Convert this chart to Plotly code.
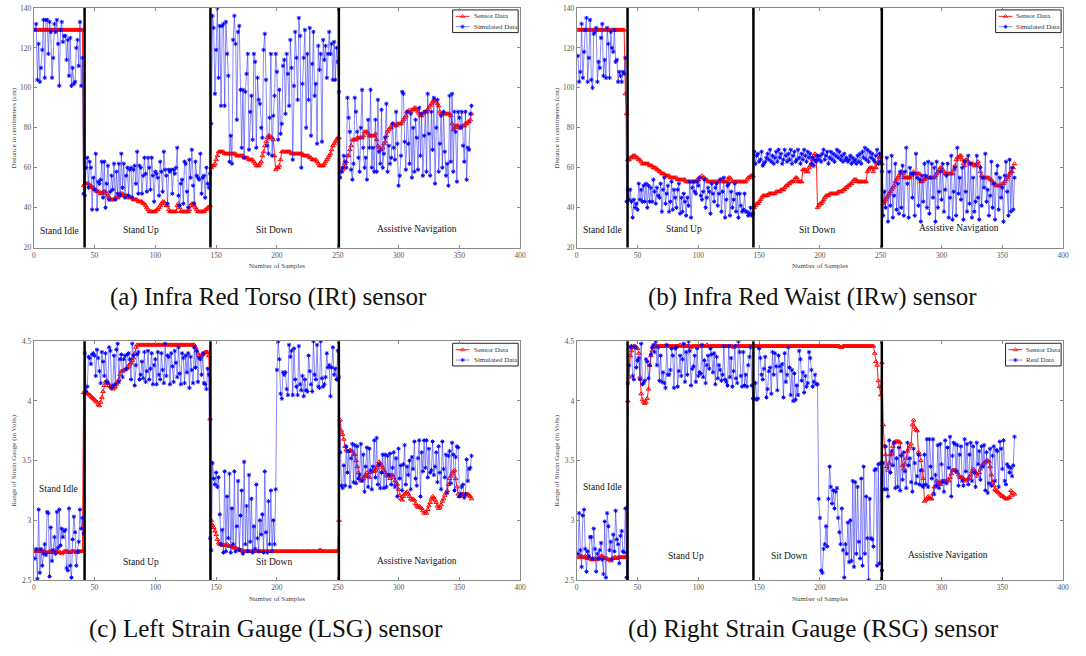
import plotly.graph_objects as go

# ---------------- Infra Red Torso (IRt) ----------------
IRT_SENSOR = [
    129, 129, 129, 129, 129, 129, 129, 129, 129, 129,
    129, 129, 129, 129, 129, 129, 129, 129, 129, 129,
    129, 129, 129, 129, 129, 129, 129, 129, 129, 129,
    129, 129, 129, 129, 129, 129, 129, 129, 129, 129,
    51, 52, 52, 52, 52, 51, 51, 50, 50, 49,
    49, 48, 48, 48, 47, 47, 48, 48, 48, 47,
    46, 45, 44, 44, 44, 44, 45, 45, 45, 46,
    47, 47, 47, 46, 46, 46, 46, 45, 45, 45,
    45, 44, 44, 44, 44, 43, 43, 43, 43, 42,
    42, 41, 40, 39, 38, 38, 38, 38, 38, 38,
    39, 39, 40, 41, 42, 43, 43, 42, 41, 41,
    39, 38, 38, 38, 38, 38, 38, 41, 42, 40,
    38, 38, 38, 38, 38, 38, 38, 39, 41, 42,
    42, 41, 40, 39, 38, 38, 38, 38, 38, 38,
    39, 39, 40, 40, 41, 60, 61, 61, 62, 64,
    66, 68, 68, 68, 68, 68, 67, 67, 67, 67,
    67, 67, 67, 67, 67, 67, 66, 66, 66, 66,
    66, 66, 65, 65, 65, 65, 64, 64, 64, 64,
    63, 62, 61, 61, 61, 62, 63, 66, 68, 71,
    73, 75, 76, 76, 75, 75, 74, 66, 59, 60,
    60, 61, 64, 68, 68, 68, 68, 68, 68, 68,
    68, 67, 67, 67, 67, 67, 67, 67, 67, 67,
    67, 66, 66, 66, 66, 66, 65, 65, 64, 64,
    64, 64, 63, 62, 61, 61, 61, 61, 62, 63,
    64, 65, 66, 67, 69, 71, 72, 73, 74, 75,
    75, 58, 58, 59, 60, 62, 63, 66, 66, 69,
    71, 74, 74, 74, 74, 75, 75, 75, 75, 75,
    76, 78, 78, 78, 77, 76, 76, 76, 76, 76,
    77, 74, 71, 70, 69, 69, 70, 72, 73, 76,
    78, 79, 80, 80, 82, 82, 81, 81, 82, 82,
    82, 82, 83, 84, 85, 86, 88, 88, 89, 88,
    89, 89, 90, 90, 89, 88, 87, 86, 86, 87,
    88, 88, 88, 89, 90, 91, 92, 93, 94, 94,
    93, 92, 91, 88, 87, 87, 87, 87, 87, 87,
    87, 87, 86, 82, 79, 80, 81, 81, 81, 80,
    80, 81, 81, 81, 82, 82, 83, 83, 84, 87,
]
IRT_SIM = [
    129, 132, 104, 122, 103, 110, 119, 134, 105, 134,
    134, 117, 133, 128, 105, 115, 132, 128, 134, 122,
    101, 129, 133, 123, 126, 126, 114, 124, 106, 125,
    101, 110, 102, 103, 120, 124, 111, 133, 101, 115,
    47, 46, 60, 65, 50, 63, 60, 39, 55, 49,
    67, 39, 53, 52, 54, 63, 45, 63, 40, 52,
    61, 44, 48, 56, 49, 62, 44, 58, 47, 62,
    46, 67, 50, 62, 45, 56, 60, 46, 59, 60,
    45, 59, 61, 52, 68, 47, 61, 60, 47, 56,
    65, 57, 48, 65, 60, 49, 65, 56, 43, 58,
    57, 55, 46, 63, 58, 48, 68, 59, 56, 42,
    59, 58, 59, 47, 59, 57, 60, 70, 46, 41,
    52, 54, 42, 63, 62, 48, 40, 64, 55, 69,
    51, 42, 63, 56, 55, 54, 67, 47, 55, 56,
    45, 60, 52, 50, 57, 82, 136, 130, 97, 119,
    140, 105, 131, 91, 131, 132, 91, 133, 117, 106,
    63, 76, 62, 124, 136, 122, 84, 128, 131, 99,
    70, 99, 65, 98, 107, 117, 69, 88, 96, 74,
    117, 113, 70, 105, 94, 92, 80, 75, 119, 127,
    104, 71, 67, 85, 117, 66, 86, 96, 117, 108,
    74, 99, 77, 82, 111, 114, 87, 117, 107, 91,
    124, 110, 64, 101, 128, 115, 94, 135, 126, 60,
    102, 115, 129, 80, 117, 94, 130, 76, 112, 128,
    96, 102, 72, 121, 109, 117, 73, 124, 114, 121,
    105, 117, 128, 117, 122, 104, 123, 104, 120, 113,
    98, 55, 58, 60, 66, 63, 60, 95, 85, 78,
    59, 54, 62, 95, 88, 78, 65, 58, 80, 99,
    70, 60, 65, 54, 84, 70, 99, 60, 70, 58,
    84, 58, 94, 68, 62, 89, 60, 67, 75, 92,
    58, 71, 62, 65, 82, 70, 64, 88, 72, 51,
    56, 66, 98, 97, 73, 59, 88, 72, 62, 87,
    55, 80, 58, 84, 75, 59, 90, 66, 87, 56,
    76, 88, 58, 97, 77, 56, 88, 69, 95, 52,
    80, 94, 58, 72, 86, 60, 88, 68, 56, 62,
    51, 96, 63, 97, 58, 88, 78, 53, 88, 85,
    80, 88, 71, 63, 88, 54, 70, 69, 87, 91,
]

# ---------------- Infra Red Waist (IRw) ----------------
IRW_SENSOR = [
    129, 129, 129, 129, 129, 129, 129, 129, 129, 129,
    129, 129, 129, 129, 129, 129, 129, 129, 129, 129,
    129, 129, 129, 129, 129, 129, 129, 129, 129, 129,
    129, 129, 129, 129, 129, 129, 129, 129, 129, 97,
    87, 64, 64, 65, 65, 66, 66, 66, 65, 65,
    64, 64, 63, 62, 62, 62, 62, 62, 62, 61,
    61, 61, 60, 60, 60, 59, 59, 58, 58, 57,
    57, 57, 56, 56, 56, 56, 55, 55, 55, 55,
    55, 55, 54, 54, 54, 54, 54, 54, 54, 53,
    53, 53, 53, 53, 53, 53, 53, 53, 54, 54,
    55, 55, 56, 55, 55, 54, 54, 53, 53, 53,
    53, 53, 53, 53, 53, 53, 53, 54, 54, 53,
    53, 53, 53, 53, 55, 55, 54, 53, 53, 53,
    53, 53, 53, 53, 53, 53, 53, 53, 53, 54,
    55, 55, 56, 56, 56, 40, 41, 42, 42, 43,
    44, 45, 46, 46, 46, 46, 46, 47, 47, 47,
    47, 47, 47, 48, 48, 48, 48, 49, 49, 49,
    50, 51, 51, 52, 52, 53, 53, 53, 54, 55,
    55, 53, 53, 53, 53, 59, 59, 59, 58, 58,
    60, 61, 62, 64, 66, 67, 66, 40, 41, 42,
    42, 43, 44, 45, 46, 46, 46, 47, 47, 47,
    47, 47, 47, 47, 48, 48, 48, 48, 49, 49,
    50, 50, 51, 51, 52, 52, 53, 54, 54, 54,
    53, 53, 53, 53, 53, 53, 53, 53, 58, 59,
    60, 60, 60, 58, 60, 60, 62, 63, 65, 66,
    62, 42, 43, 44, 45, 46, 47, 48, 49, 50,
    51, 53, 54, 55, 56, 57, 58, 57, 55, 55,
    55, 55, 55, 55, 56, 57, 58, 57, 57, 57,
    57, 57, 53, 53, 54, 54, 55, 55, 55, 55,
    55, 55, 55, 55, 56, 57, 58, 59, 60, 60,
    59, 58, 57, 57, 57, 57, 57, 57, 57, 59,
    61, 64, 65, 65, 66, 66, 64, 62, 61, 64,
    64, 63, 62, 62, 62, 62, 61, 61, 62, 63,
    61, 58, 56, 55, 55, 55, 55, 55, 55, 54,
    54, 53, 52, 52, 51, 51, 51, 51, 51, 52,
    52, 53, 54, 55, 56, 57, 58, 58, 60, 62,
]
IRW_SIM = [
    116, 103, 108, 132, 105, 118, 129, 135, 103, 115,
    134, 104, 100, 127, 128, 130, 103, 113, 110, 125,
    132, 106, 114, 105, 130, 122, 105, 128, 120, 118,
    129, 113, 114, 103, 108, 106, 103, 108, 107, 115,
    43, 49, 44, 49, 43, 35, 44, 40, 42, 39,
    52, 44, 49, 43, 51, 43, 52, 40, 51, 43,
    50, 43, 54, 48, 42, 50, 46, 45, 52, 38,
    49, 55, 42, 47, 51, 38, 43, 53, 39, 49,
    45, 40, 49, 52, 37, 45, 38, 47, 43, 36,
    45, 41, 53, 35, 50, 53, 48, 47, 53, 51,
    55, 46, 44, 48, 54, 40, 45, 50, 48, 37,
    52, 47, 43, 50, 52, 41, 47, 54, 38, 48,
    55, 35, 44, 51, 52, 36, 48, 40, 44, 52,
    38, 47, 35, 47, 41, 38, 39, 47, 38, 38,
    36, 37, 40, 36, 37, 68, 62, 66, 67, 63,
    64, 68, 61, 62, 63, 65, 67, 64, 69, 63,
    66, 62, 65, 68, 63, 69, 65, 67, 62, 64,
    69, 66, 63, 67, 64, 69, 62, 66, 68, 63,
    64, 69, 65, 62, 67, 64, 69, 66, 63, 68,
    65, 67, 62, 65, 61, 64, 63, 66, 64, 66,
    63, 67, 69, 64, 66, 68, 62, 65, 68, 64,
    67, 63, 66, 69, 65, 68, 64, 66, 63, 67,
    64, 65, 63, 64, 66, 62, 65, 63, 64, 62,
    66, 63, 67, 62, 68, 65, 70, 64, 69, 63,
    68, 65, 67, 64, 63, 66, 69, 62, 67, 63,
    58, 36, 48, 40, 65, 33, 58, 41, 66, 35,
    46, 62, 39, 52, 37, 58, 40, 61, 36, 58,
    70, 52, 35, 60, 57, 45, 57, 36, 67, 55,
    41, 54, 33, 56, 43, 62, 56, 40, 63, 37,
    55, 62, 45, 60, 33, 63, 40, 48, 58, 44,
    62, 38, 49, 56, 62, 35, 45, 66, 34, 48,
    60, 36, 70, 47, 55, 44, 60, 34, 63, 48,
    38, 66, 42, 62, 35, 55, 38, 43, 66, 45,
    34, 60, 41, 55, 50, 67, 43, 49, 36, 46,
    63, 40, 52, 34, 57, 61, 39, 55, 45, 50,
    33, 56, 63, 48, 36, 64, 38, 60, 39, 55,
]

# ---------------- Left Strain Gauge (LSG) ----------------
LSG_SENSOR = [
    2.74, 2.74, 2.74, 2.75, 2.75, 2.74, 2.74, 2.74, 2.74, 2.73,
    2.73, 2.73, 2.74, 2.74, 2.73, 2.73, 2.73, 2.74, 2.74, 2.74,
    2.73, 2.73, 2.72, 2.73, 2.74, 2.74, 2.74, 2.74, 2.73, 2.73,
    2.74, 2.74, 2.74, 2.74, 2.73, 2.73, 2.74, 2.74, 2.74, 2.74,
    4.07, 4.07, 4.07, 4.06, 4.06, 4.05, 4.04, 4.03, 4.02, 4.01,
    4.00, 3.99, 3.97, 3.96, 3.99, 4.03, 4.08, 4.13, 4.16, 4.17,
    4.15, 4.13, 4.12, 4.11, 4.10, 4.11, 4.12, 4.14, 4.16, 4.18,
    4.22, 4.25, 4.25, 4.26, 4.26, 4.27, 4.28, 4.29, 4.31, 4.32,
    4.34, 4.36, 4.40, 4.45, 4.47, 4.47, 4.47, 4.47, 4.47, 4.47,
    4.47, 4.47, 4.47, 4.47, 4.47, 4.47, 4.47, 4.47, 4.47, 4.47,
    4.47, 4.47, 4.47, 4.47, 4.47, 4.47, 4.47, 4.47, 4.47, 4.47,
    4.47, 4.47, 4.47, 4.47, 4.47, 4.47, 4.47, 4.47, 4.47, 4.47,
    4.47, 4.47, 4.47, 4.47, 4.47, 4.47, 4.47, 4.47, 4.47, 4.47,
    4.47, 4.47, 4.45, 4.42, 4.40, 4.38, 4.37, 4.38, 4.39, 4.40,
    4.41, 4.41, 4.41, 4.38, 3.85, 3.00, 2.96, 2.94, 2.91, 2.88,
    2.84, 2.81, 2.80, 2.80, 2.79, 2.79, 2.79, 2.79, 2.80, 2.79,
    2.78, 2.78, 2.78, 2.77, 2.77, 2.77, 2.76, 2.76, 2.76, 2.75,
    2.75, 2.74, 2.74, 2.74, 2.74, 2.74, 2.74, 2.74, 2.74, 2.74,
    2.74, 2.74, 2.74, 2.74, 2.74, 2.74, 2.74, 2.74, 2.74, 2.74,
    2.74, 2.74, 2.74, 2.74, 2.74, 2.74, 2.74, 2.74, 2.74, 2.74,
    2.74, 2.74, 2.74, 2.74, 2.74, 2.74, 2.74, 2.74, 2.74, 2.74,
    2.74, 2.74, 2.74, 2.74, 2.74, 2.74, 2.74, 2.74, 2.74, 2.74,
    2.74, 2.74, 2.74, 2.74, 2.74, 2.74, 2.74, 2.74, 2.74, 2.74,
    2.74, 2.74, 2.74, 2.74, 2.75, 2.75, 2.74, 2.74, 2.74, 2.74,
    2.74, 2.74, 2.74, 2.74, 2.74, 2.74, 2.74, 2.74, 2.74, 2.74,
    3.00, 3.84, 3.75, 3.72, 3.68, 3.62, 3.59, 3.58, 3.58, 3.59,
    3.58, 3.58, 3.55, 3.55, 3.50, 3.45, 3.40, 3.35, 3.33, 3.34,
    3.35, 3.37, 3.37, 3.40, 3.37, 3.36, 3.40, 3.41, 3.42, 3.41,
    3.42, 3.44, 3.46, 3.49, 3.48, 3.46, 3.44, 3.42, 3.40, 3.38,
    3.37, 3.38, 3.35, 3.38, 3.38, 3.36, 3.33, 3.31, 3.30, 3.26,
    3.21, 3.18, 3.17, 3.20, 3.22, 3.23, 3.24, 3.22, 3.20, 3.18,
    3.17, 3.18, 3.17, 3.14, 3.12, 3.11, 3.12, 3.11, 3.10, 3.08,
    3.06, 3.07, 3.06, 3.09, 3.12, 3.15, 3.18, 3.20, 3.19, 3.17,
    3.15, 3.12, 3.10, 3.11, 3.13, 3.16, 3.18, 3.21, 3.23, 3.25,
    3.30, 3.35, 3.37, 3.39, 3.41, 3.42, 3.35, 3.28, 3.22, 3.20,
    3.21, 3.22, 3.22, 3.21, 3.22, 3.22, 3.22, 3.21, 3.20, 3.18,
]
LSG_SIM = [
    2.68, 2.76, 2.51, 3.09, 2.56, 2.76, 2.62, 2.72, 2.80, 2.71,
    3.07, 3.06, 2.53, 2.94, 2.66, 2.75, 2.86, 2.72, 3.07, 2.77,
    3.09, 2.79, 2.93, 2.86, 2.91, 2.92, 2.60, 2.58, 3.10, 2.62,
    2.52, 2.84, 3.03, 2.90, 2.62, 2.74, 2.82, 3.09, 2.93, 3.02,
    2.89, 4.40, 4.08, 4.12, 4.37, 4.36, 4.31, 4.39, 4.40, 4.38,
    4.21, 4.43, 4.36, 4.25, 4.15, 4.41, 4.33, 4.21, 4.40, 4.16,
    4.15, 4.45, 4.42, 4.11, 4.13, 4.38, 4.14, 4.43, 4.48, 4.16,
    4.35, 4.39, 4.20, 4.35, 4.38, 4.27, 4.39, 4.40, 4.35, 4.18,
    4.48, 4.38, 4.13, 4.30, 4.39, 4.41, 4.18, 4.22, 4.33, 4.19,
    4.41, 4.16, 4.25, 4.42, 4.18, 4.27, 4.40, 4.14, 4.30, 4.35,
    4.14, 4.41, 4.22, 4.18, 4.40, 4.26, 4.15, 4.48, 4.21, 4.38,
    4.37, 4.14, 4.40, 4.29, 4.16, 4.42, 4.32, 4.20, 4.45, 4.23,
    4.14, 4.40, 4.36, 4.15, 4.38, 4.24, 4.40, 4.11, 4.37, 4.26,
    4.15, 4.45, 4.28, 4.42, 4.16, 4.36, 4.35, 4.22, 4.40, 4.15,
    4.14, 4.10, 4.27, 4.22, 2.85, 2.75, 3.48, 3.35, 3.30, 3.40,
    3.28, 3.36, 3.05, 2.80, 2.92, 2.73, 3.41, 2.74, 3.20, 2.85,
    3.39, 2.73, 3.10, 2.80, 3.41, 2.74, 2.95, 3.33, 2.75, 3.04,
    3.25, 2.72, 3.49, 2.80, 3.12, 2.74, 3.38, 2.82, 3.18, 2.73,
    2.95, 2.76, 3.30, 2.85, 2.74, 3.00, 2.88, 3.05, 2.73, 3.41,
    2.90, 2.73, 3.16, 2.80, 3.25, 2.74, 3.00, 2.80, 3.26, 4.26,
    4.50, 4.35, 4.06, 4.02, 4.24, 4.22, 4.24, 4.10, 4.05, 4.47,
    4.37, 4.42, 4.05, 4.44, 4.18, 4.12, 4.05, 4.46, 4.14, 4.09,
    4.21, 4.04, 4.18, 4.09, 4.08, 4.38, 4.25, 4.14, 4.08, 4.50,
    4.22, 4.18, 4.47, 4.12, 4.11, 4.50, 4.19, 4.12, 4.14, 4.20,
    4.40, 4.28, 4.30, 4.04, 4.28, 4.45, 4.22, 4.27, 4.18, 4.42,
    4.20, 3.57, 3.29, 3.27, 3.46, 3.29, 3.62, 3.40, 3.58, 3.28,
    3.52, 3.64, 3.32, 3.63, 3.31, 3.62, 3.35, 3.38, 3.64, 3.33,
    3.55, 3.24, 3.45, 3.61, 3.28, 3.60, 3.42, 3.26, 3.45, 3.67,
    3.36, 3.69, 3.30, 3.47, 3.27, 3.40, 3.55, 3.27, 3.55, 3.28,
    3.54, 3.38, 3.56, 3.30, 3.44, 3.57, 3.28, 3.52, 3.20, 3.60,
    3.35, 3.46, 3.25, 3.47, 3.63, 3.30, 3.45, 3.38, 3.50, 3.26,
    3.53, 3.43, 3.66, 3.35, 3.29, 3.52, 3.67, 3.20, 3.57, 3.41,
    3.67, 3.44, 3.67, 3.36, 3.60, 3.40, 3.42, 3.66, 3.38, 3.45,
    3.57, 3.32, 3.62, 3.40, 3.26, 3.66, 3.43, 3.36, 3.55, 3.23,
    3.54, 3.58, 3.31, 3.65, 3.55, 3.25, 3.53, 3.62, 3.61, 3.20,
    3.22, 3.28, 3.30, 3.19, 3.22, 3.51, 3.33, 3.43, 3.44, 3.54,
]

# ---------------- Right Strain Gauge (RSG) ----------------
RSG_SENSOR = [
    2.70, 2.69, 2.70, 2.70, 2.69, 2.69, 2.70, 2.69, 2.68, 2.69,
    2.68, 2.67, 2.67, 2.67, 2.68, 2.68, 2.67, 2.68, 2.69, 2.70,
    2.70, 2.69, 2.68, 2.68, 2.68, 2.67, 2.67, 2.66, 2.68, 2.68,
    2.69, 2.69, 2.68, 2.69, 2.69, 2.69, 2.69, 2.69, 2.69, 2.69,
    2.69, 4.00, 4.20, 4.38, 4.42, 4.45, 4.46, 4.46, 4.45, 4.44,
    4.40, 4.20, 4.06, 4.01, 3.99, 3.98, 3.99, 4.02, 4.10, 4.30,
    4.38, 4.42, 4.45, 4.46, 4.47, 4.46, 4.46, 4.46, 4.46, 4.46,
    4.46, 4.46, 4.46, 4.46, 4.46, 4.46, 4.46, 4.46, 4.46, 4.46,
    4.46, 4.46, 4.46, 4.46, 4.47, 4.46, 4.46, 4.46, 4.46, 4.46,
    4.46, 4.46, 4.46, 4.45, 4.46, 4.46, 4.46, 4.46, 4.46, 4.46,
    4.46, 4.46, 4.46, 4.46, 4.46, 4.46, 4.47, 4.46, 4.46, 4.46,
    4.46, 4.46, 4.46, 4.46, 4.46, 4.46, 4.46, 4.46, 4.46, 4.46,
    4.46, 4.46, 4.46, 4.46, 4.46, 4.46, 4.46, 4.46, 4.45, 4.46,
    4.46, 4.46, 4.46, 4.46, 4.46, 4.46, 4.46, 4.46, 4.46, 4.46,
    4.46, 4.46, 4.46, 4.46, 4.46, 4.46, 4.46, 4.46, 4.46, 4.46,
    4.46, 4.46, 4.46, 4.46, 4.46, 4.46, 4.46, 4.46, 4.46, 4.46,
    4.46, 4.46, 4.46, 4.46, 4.46, 4.46, 4.46, 4.46, 4.46, 4.46,
    4.46, 4.46, 4.46, 4.46, 4.46, 4.46, 4.46, 4.46, 4.46, 4.46,
    4.46, 4.46, 4.46, 4.46, 4.46, 4.46, 4.46, 4.46, 4.46, 4.46,
    4.46, 4.46, 4.46, 4.46, 4.46, 4.46, 4.46, 4.46, 4.46, 4.46,
    4.46, 4.46, 4.46, 4.46, 4.46, 4.46, 4.46, 4.46, 4.46, 4.46,
    4.46, 4.46, 4.46, 4.46, 4.46, 4.46, 4.45, 4.45, 4.46, 4.46,
    4.46, 4.46, 4.46, 4.46, 4.46, 4.46, 4.46, 4.46, 4.46, 4.46,
    4.46, 4.46, 4.46, 4.46, 4.46, 4.46, 4.46, 4.46, 4.46, 4.46,
    4.46, 4.46, 4.46, 4.46, 4.40, 4.33, 4.30, 4.17, 4.12, 4.05,
    4.32, 3.80, 3.62, 3.55, 3.45, 3.42, 3.48, 3.55, 3.56, 3.62,
    3.65, 3.66, 3.66, 3.66, 3.66, 3.65, 3.55, 3.46, 3.43, 3.47,
    3.52, 3.58, 3.60, 3.62, 3.64, 3.80, 3.84, 3.78, 3.76, 3.75,
    3.57, 3.55, 3.50, 3.42, 3.35, 3.16, 3.17, 3.18, 3.20, 3.19,
    3.18, 3.18, 3.22, 3.28, 3.28, 3.33, 3.32, 3.31, 3.30, 3.33,
    3.33, 3.33, 3.33, 3.33, 3.34, 3.33, 3.36, 3.39, 3.42, 3.42,
    3.42, 3.42, 3.40, 3.38, 3.36, 3.36, 3.36, 3.35, 3.34, 3.33,
    3.34, 3.35, 3.36, 3.38, 3.41, 3.43, 3.42, 3.40, 3.39, 3.37,
    3.40, 3.43, 3.45, 3.47, 3.48, 3.49, 3.50, 3.50, 3.49, 3.45,
    3.38, 3.32, 3.29, 3.26, 3.25, 3.24, 3.23, 3.22, 3.21, 3.20,
    3.20, 3.19, 3.18, 3.18, 3.19, 3.19, 3.25, 3.21, 3.23, 3.22,
]
RSG_REAL = [
    2.72, 3.06, 2.75, 2.61, 3.04, 3.09, 2.76, 2.57, 2.74, 2.70,
    2.86, 2.86, 2.68, 2.93, 2.76, 2.57, 2.72, 2.68, 2.75, 2.81,
    2.67, 2.55, 2.99, 2.52, 3.06, 2.95, 2.75, 2.82, 2.67, 2.88,
    2.74, 3.08, 2.84, 2.80, 2.64, 2.87, 2.91, 2.74, 2.73, 3.10,
    2.52, 4.15, 4.30, 4.45, 4.46, 4.21, 4.18, 4.45, 4.28, 4.34,
    4.36, 4.18, 4.48, 4.14, 4.15, 4.17, 4.35, 4.33, 4.19, 4.30,
    4.39, 4.45, 4.47, 4.41, 4.50, 4.30, 4.45, 4.17, 4.38, 4.16,
    4.24, 4.15, 4.11, 4.47, 4.22, 4.22, 4.26, 4.44, 4.38, 4.11,
    4.44, 4.45, 4.12, 4.25, 4.38, 4.21, 4.35, 4.48, 4.16, 4.41,
    4.22, 4.50, 4.42, 4.13, 4.27, 4.29, 4.38, 4.16, 4.44, 4.21,
    4.24, 4.23, 4.47, 4.20, 4.34, 4.15, 4.30, 4.38, 4.27, 4.44,
    4.39, 4.24, 4.40, 4.14, 4.37, 4.19, 4.30, 4.26, 4.17, 4.22,
    4.46, 4.18, 4.16, 4.13, 4.46, 4.20, 4.36, 4.12, 4.25, 4.46,
    4.19, 4.15, 4.50, 4.41, 4.21, 4.12, 4.41, 4.13, 4.22, 4.12,
    4.30, 4.37, 4.45, 4.13, 4.02, 4.02, 4.15, 4.01, 4.02, 4.44,
    4.36, 4.22, 4.18, 4.27, 4.37, 4.03, 4.10, 4.25, 4.28, 4.06,
    4.41, 4.22, 4.40, 4.29, 4.09, 4.38, 4.29, 4.25, 4.31, 4.03,
    4.40, 4.16, 4.22, 4.45, 4.28, 4.05, 4.26, 4.00, 4.23, 4.01,
    4.13, 4.05, 4.42, 4.35, 4.17, 4.24, 4.07, 4.21, 4.12, 4.15,
    4.41, 4.36, 4.26, 4.12, 4.16, 4.22, 4.14, 4.14, 3.18, 3.02,
    2.58, 2.56, 2.76, 2.80, 2.95, 2.78, 3.18, 3.45, 3.28, 3.14,
    3.25, 3.10, 3.24, 3.27, 3.02, 2.90, 2.80, 3.10, 2.75, 2.52,
    2.80, 2.72, 2.98, 2.65, 3.00, 2.66, 3.33, 2.61, 3.32, 2.72,
    3.28, 2.82, 2.68, 3.35, 2.62, 3.45, 2.72, 3.20, 2.85, 2.50,
    3.18, 2.85, 2.84, 2.78, 3.42, 3.43, 2.62, 3.47, 2.64, 3.48,
    2.58, 3.48, 3.26, 3.62, 3.26, 3.20, 3.67, 3.40, 3.58, 3.46,
    3.65, 3.27, 3.52, 3.28, 3.61, 3.25, 3.54, 3.34, 3.57, 3.41,
    3.27, 3.65, 3.46, 3.52, 3.32, 3.24, 3.60, 3.48, 3.31, 3.37,
    3.55, 3.30, 3.42, 3.29, 3.28, 3.55, 3.30, 3.68, 3.28, 3.68,
    3.45, 3.35, 3.68, 3.22, 3.38, 3.29, 3.63, 3.27, 3.64, 3.47,
    3.32, 3.24, 3.67, 3.31, 3.61, 3.44, 3.70, 3.20, 3.54, 3.65,
    3.64, 3.41, 3.63, 3.29, 3.55, 3.62, 3.33, 3.29, 3.68, 3.41,
    3.64, 3.30, 3.55, 3.65, 3.33, 3.62, 3.40, 3.28, 3.65, 3.47,
    3.58, 3.34, 3.62, 3.45, 3.63, 3.25, 3.57, 3.23, 3.31, 3.60,
    3.29, 3.54, 3.62, 3.33, 3.59, 3.58, 3.28, 3.66, 3.60, 3.43,
    3.67, 3.33, 3.30, 3.47, 3.45, 3.40, 3.44, 3.37, 3.46, 3.70,
]

PHASE_BOUNDS = [41.8, 145.3, 250.9]
PHASE_NAMES = ["Stand Idle", "Stand Up", "Sit Down", "Assistive Navigation"]

PANELS = [
    dict(sensor=IRT_SENSOR, other=IRT_SIM, other_name="Simulated Data",
         yrange=[20, 140], ytick=20, ytitle="Distance in centimeters (cm)",
         caption="(a) Infra Red Torso (IRt) sensor",
         label_pos=[(21.5, 28.3), (88, 29), (197.5, 28.7), (315, 29.4)]),
    dict(sensor=IRW_SENSOR, other=IRW_SIM, other_name="Simulated Data",
         yrange=[20, 140], ytick=20, ytitle="Distance in centimeters (cm)",
         caption="(b) Infra Red Waist (IRw) sensor",
         label_pos=[(21.5, 28.6), (88, 29.4), (197.5, 29), (314.5, 29.6)]),
    dict(sensor=LSG_SENSOR, other=LSG_SIM, other_name="Simulated Data",
         yrange=[2.5, 4.5], ytick=0.5, ytitle="Range of Strain Gauge (in Volts)",
         caption="(c) Left Strain Gauge (LSG) sensor",
         label_pos=[(20, 3.26), (88, 2.65), (197.5, 2.65), (315, 2.66)]),
    dict(sensor=RSG_SENSOR, other=RSG_REAL, other_name="Real Data",
         yrange=[2.5, 4.5], ytick=0.5, ytitle="Range of Strain Gauge (in Volts)",
         caption="(d) Right Strain Gauge (RSG) sensor",
         label_pos=[(21.5, 3.28), (90, 2.70), (174.5, 2.70), (305, 2.71)]),
]

lengths = [len(p[k]) for p in PANELS for k in ("sensor", "other")]
if any(n != 360 for n in lengths):
    raise ValueError(f"series lengths: {lengths}")

W, H = 1086, 656
# plot-area boxes in pixels: (left, right, top, bottom)
BOXES = [(32, 522, 4, 247), (579, 1069, 4, 247),
         (32, 522, 342, 584), (579, 1069, 342, 584)]
CAPTION_X = [268, 817, 266, 818]

SERIF = "Liberation Serif"
RED, BLUE = "#ff0000", "#0000ff"
BLUE_LINE = "rgba(40,40,255,0.55)"
SENSOR_MARK = dict(symbol="triangle-up-open", size=4, color=RED,
                   line=dict(width=1, color=RED))
OTHER_MARK = dict(symbol="asterisk-open", size=3.5, color=BLUE,
                  line=dict(width=1, color=BLUE))

fig = go.Figure()
layout = dict(
    width=W, height=H, margin=dict(l=0, r=0, t=0, b=0),
    paper_bgcolor="white", plot_bgcolor="rgba(0,0,0,0)", showlegend=False,
    font=dict(family=SERIF, color="#333"),
)
shapes, annotations = [], []

# a full-page overlay axis pair in pixel units, used for the legend keys
layout["xaxis5"] = dict(domain=[0, 1], range=[0, W], visible=False,
                        fixedrange=True, anchor="y5")
layout["yaxis5"] = dict(domain=[0, 1], range=[H, 0], visible=False,
                        fixedrange=True, anchor="x5")

for i, (panel, box) in enumerate(zip(PANELS, BOXES)):
    n = i + 1
    xa = "x" if n == 1 else f"x{n}"
    ya = "y" if n == 1 else f"y{n}"
    left, right, top, bottom = box
    xs = list(range(1, 361))

    fig.add_trace(go.Scatter(
        x=xs, y=panel["sensor"], name="Sensor Data", xaxis=xa, yaxis=ya,
        mode="lines+markers", line=dict(color="#ff1a1a", width=1),
        marker=SENSOR_MARK,
    ))
    fig.add_trace(go.Scatter(
        x=xs, y=panel["other"], name=panel["other_name"], xaxis=xa, yaxis=ya,
        mode="lines+markers", line=dict(color=BLUE_LINE, width=1),
        marker=OTHER_MARK,
    ))

    axis_common = dict(
        showline=True, linecolor="#8a8a8a", linewidth=1, mirror="ticks",
        ticks="inside", ticklen=3, tickcolor="#8a8a8a", showgrid=False,
        zeroline=False, tickfont=dict(family=SERIF, size=7.5, color="#555"),
    )
    layout["xaxis" if n == 1 else f"xaxis{n}"] = dict(
        axis_common, domain=[left / W, right / W], range=[0, 400],
        tick0=0, dtick=50, anchor=ya,
    )
    layout["yaxis" if n == 1 else f"yaxis{n}"] = dict(
        axis_common, domain=[1 - bottom / H, 1 - top / H],
        range=panel["yrange"], tick0=panel["yrange"][0], dtick=panel["ytick"],
        anchor=xa,
    )

    # phase separators
    for bx in PHASE_BOUNDS:
        shapes.append(dict(type="line", xref=xa, yref=f"{ya} domain",
                           x0=bx, x1=bx, y0=0, y1=1,
                           line=dict(color="black", width=2.5)))

    for name, (lx, ly) in zip(PHASE_NAMES, panel["label_pos"]):
        annotations.append(dict(x=lx, y=ly, xref=xa, yref=ya, text=name,
                                showarrow=False,
                                font=dict(family=SERIF, size=9.5, color="#111")))

    # legend box in the top-right corner of the axes
    lw = 66 if panel["other_name"] == "Simulated Data" else 56
    lx1, ly0 = right - 2, top + 2
    lx0, ly1 = lx1 - lw, ly0 + 23
    shapes.append(dict(type="rect", xref="paper", yref="paper",
                       x0=lx0 / W, x1=lx1 / W, y0=1 - ly1 / H, y1=1 - ly0 / H,
                       line=dict(color="#222", width=1), fillcolor="white",
                       layer="below"))
    for row, (label, lcol, mark) in enumerate(
            [("Sensor Data", "#ff1a1a", SENSOR_MARK),
             (panel["other_name"], BLUE_LINE, OTHER_MARK)]):
        yy = ly0 + 6.5 + row * 10.5
        fig.add_trace(go.Scatter(
            x=[lx0 + 3, lx0 + 10, lx0 + 17], y=[yy, yy, yy],
            xaxis="x5", yaxis="y5", mode="lines+markers",
            line=dict(color=lcol, width=1),
            marker=dict(mark, size=[0, mark["size"], 0]),
            hoverinfo="skip",
        ))
        annotations.append(dict(x=(lx0 + 19) / W, y=1 - yy / H, xref="paper",
                                yref="paper", text=label, showarrow=False,
                                xanchor="left", yanchor="middle",
                                font=dict(family=SERIF, size=7, color="#333")))

    cx = (left + right) / 2
    annotations.append(dict(x=cx / W, y=1 - (bottom + 19) / H, xref="paper",
                            yref="paper", text="Number of Samples",
                            showarrow=False, xanchor="center",
                            yanchor="middle",
                            font=dict(family=SERIF, size=7, color="#444")))
    annotations.append(dict(x=(left - 20) / W, y=1 - (top + bottom) / 2 / H,
                            xref="paper", yref="paper", text=panel["ytitle"],
                            textangle=-90, showarrow=False, xanchor="center",
                            yanchor="middle",
                            font=dict(family=SERIF, size=7, color="#444")))
    annotations.append(dict(x=CAPTION_X[i] / W, y=1 - (bottom + 50) / H,
                            xref="paper", yref="paper", text=panel["caption"],
                            showarrow=False, xanchor="center",
                            yanchor="middle",
                            font=dict(family=SERIF, size=25, color="#111")))

layout["shapes"] = shapes
layout["annotations"] = annotations
fig.update_layout(**layout)
fig.write_html("out.html")
